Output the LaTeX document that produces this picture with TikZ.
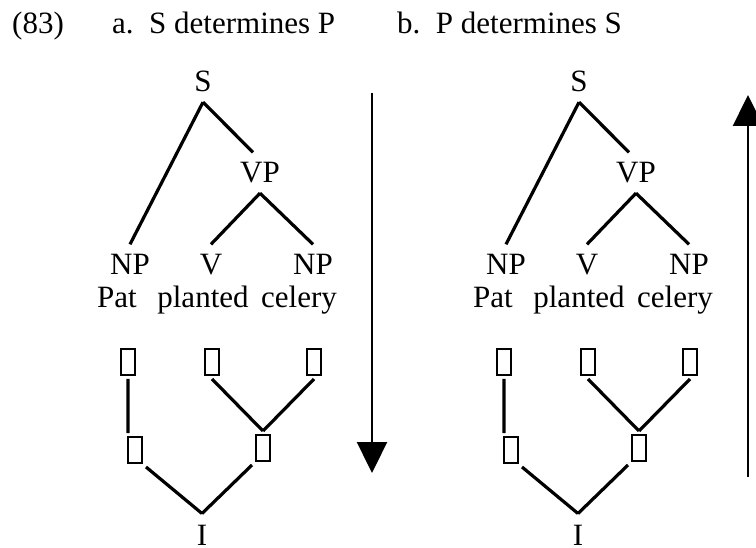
\documentclass[tikz,border=0pt]{standalone}
\usepackage{fontspec}
\setmainfont{Liberation Serif}
\usetikzlibrary{arrows.meta,positioning}

\begin{document}
\begin{tikzpicture}[x=1pt,y=1pt,>={Triangle[length=31pt,width=30pt]},
  every node/.style={font=\fontsize{31}{37}\selectfont},
  cat/.style={anchor=base,inner sep=10pt,text height=20.5pt,text depth=0pt},
  root/.style={cat,inner sep=0pt,outer sep=11pt},
  word/.style={anchor=base,inner sep=0pt},
  tofu/.style={draw,line width=1.1pt,minimum width=14pt,minimum height=26pt,inner sep=0pt,outer sep=4pt},
  branch/.style={line width=3.2pt}]
  \useasboundingbox (0,0) rectangle (756,-548);

  % heading
  \node[word,anchor=base west] (num) at (12,-34) {(83)};
  \node[word,anchor=base west] (capa) at (112,-34) {a.\hspace{.5em}S determines P};
  \node[word,anchor=base west] (capb) at (397,-34) {b.\hspace{.5em}P determines S};

  % a. S determines P
  \node[cat]  (aS)   at (203,-92)  {S};
  \node[cat]  (aVP)  at (260,-183) {VP};
  \node[cat]  (aNPs) at (130,-275) {NP};
  \node[cat]  (aV)   at (211,-275) {V};
  \node[cat]  (aNPo) at (313,-275) {NP};
  \node[word] (aPat)     at (117,-308) {Pat};
  \node[word] (aplanted) at (203,-308) {planted};
  \node[word] (acelery)  at (299,-308) {celery};
  \node[tofu] (ab1) at (128,-362) {};
  \node[tofu] (ab2) at (212,-362) {};
  \node[tofu] (ab3) at (314,-362) {};
  \node[tofu] (ab4) at (135,-450) {};
  \node[tofu] (ab5) at (263,-448) {};
  \node[root] (aI)  at (202,-545) {I};

  \draw[branch] (aS.south) -- (aNPs.north)
        (aS.south) -- ([xshift=-7pt]aVP.north)
        (aVP.south) -- (aV.north)
        (aVP.south) -- (aNPo.north)
        (ab1.south) -- (ab1.south |- ab4.north)
        (ab2.south) -- (ab5.north)
        (ab3.south) -- (ab5.north)
        (ab4.south east) -- (aI.north)
        (ab5.south west) -- (aI.north);

  \coordinate (atop) at (372,-93);
  \coordinate (abot) at (372,-473);
  \draw[->,line width=2.4pt] (atop) -- (abot);

  % b. P determines S
  \node[cat]  (bS)   at (579,-92)  {S};
  \node[cat]  (bVP)  at (636,-183) {VP};
  \node[cat]  (bNPs) at (506,-275) {NP};
  \node[cat]  (bV)   at (587,-275) {V};
  \node[cat]  (bNPo) at (689,-275) {NP};
  \node[word] (bPat)     at (493,-308) {Pat};
  \node[word] (bplanted) at (579,-308) {planted};
  \node[word] (bcelery)  at (675,-308) {celery};
  \node[tofu] (bb1) at (504,-362) {};
  \node[tofu] (bb2) at (588,-362) {};
  \node[tofu] (bb3) at (690,-362) {};
  \node[tofu] (bb4) at (511,-450) {};
  \node[tofu] (bb5) at (639,-448) {};
  \node[root] (bI)  at (578,-545) {I};

  \draw[branch] (bS.south) -- (bNPs.north)
        (bS.south) -- ([xshift=-7pt]bVP.north)
        (bVP.south) -- (bV.north)
        (bVP.south) -- (bNPo.north)
        (bb1.south) -- (bb1.south |- bb4.north)
        (bb2.south) -- (bb5.north)
        (bb3.south) -- (bb5.north)
        (bb4.south east) -- (bI.north)
        (bb5.south west) -- (bI.north);

  \coordinate (bbot) at (748,-477);
  \coordinate (btop) at (748,-95);
  \draw[->,line width=2.4pt] (bbot) -- (btop);
\end{tikzpicture}
\end{document}
